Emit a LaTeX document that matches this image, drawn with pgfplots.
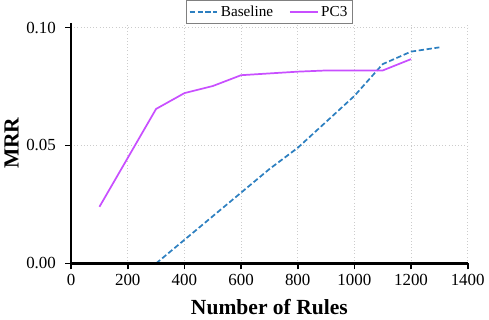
\documentclass[border=0pt]{standalone}
\usepackage{fontspec}
\setmainfont{Liberation Serif}
\usepackage{pgfplots}
\pgfplotsset{compat=1.18}
\definecolor{baseblue}{HTML}{2C7FC0}
\definecolor{pcviolet}{HTML}{C84FFF}
\begin{document}
\begin{tikzpicture}
\begin{axis}[
  scale only axis,
  width=300pt, height=182pt,
  xmin=0, xmax=1400,
  ymin=0, ymax=0.102,
  xtick={0,200,...,1400},
  ytick={0,0.05,0.10},
  xticklabel style={/pgf/number format/1000 sep={}},
  yticklabel style={xshift=-3.5pt, /pgf/number format/fixed,
    /pgf/number format/fixed zerofill, /pgf/number format/precision=2},
  /pgf/number format/assume math mode=true,
  axis x line*=bottom,
  axis y line*=left,
  x axis line style={line width=1.8pt},
  y axis line style={line width=1.8pt},
  xtick style={line width=1.3pt, black},
  ytick style={line width=1.3pt, black},
  tick align=outside,
  major tick length=4.5pt,
  grid=major,
  grid style={dotted, gray!40, line width=0.5pt},
  tick label style={font=\fontsize{12.8}{14}\selectfont},
  xlabel={\textbf{Number of Rules}},
  ylabel={\textbf{MRR}},
  label style={font=\fontsize{16.3}{17}\selectfont},
  xlabel style={yshift=-4pt},
  ylabel style={yshift=-1pt},
  legend columns=2,
  legend style={at={(0.5,1.0)}, anchor=south, draw=gray, line width=0.8pt,
    font=\fontsize{11.5}{12.5}\selectfont, inner sep=2pt, yshift=-1pt,
    /tikz/every even column/.append style={column sep=10pt}},
  legend image code/.code={\draw[#1] (0pt,0pt) -- (21pt,0pt);},
  legend cell align=left,
]
\addplot[baseblue, dash pattern=on 4pt off 2pt, line width=1.3pt] coordinates {
  (300,0.000) (400,0.010) (500,0.020) (600,0.030) (700,0.040)
  (800,0.049) (900,0.060) (1000,0.071) (1100,0.0845) (1200,0.0898) (1300,0.0916)
};
\addlegendentry{Baseline}
\addplot[pcviolet, line width=1.3pt] coordinates {
  (100,0.024) (300,0.0655) (400,0.0722) (500,0.0752) (600,0.0798)
  (800,0.0813) (900,0.0818) (1100,0.0818) (1200,0.0866)
};
\addlegendentry{PC3}
\draw[line width=1.8pt, black] (rel axis cs:0,1) -- (rel axis cs:0,0) -- (rel axis cs:1,0);
\end{axis}
\end{tikzpicture}
\end{document}
